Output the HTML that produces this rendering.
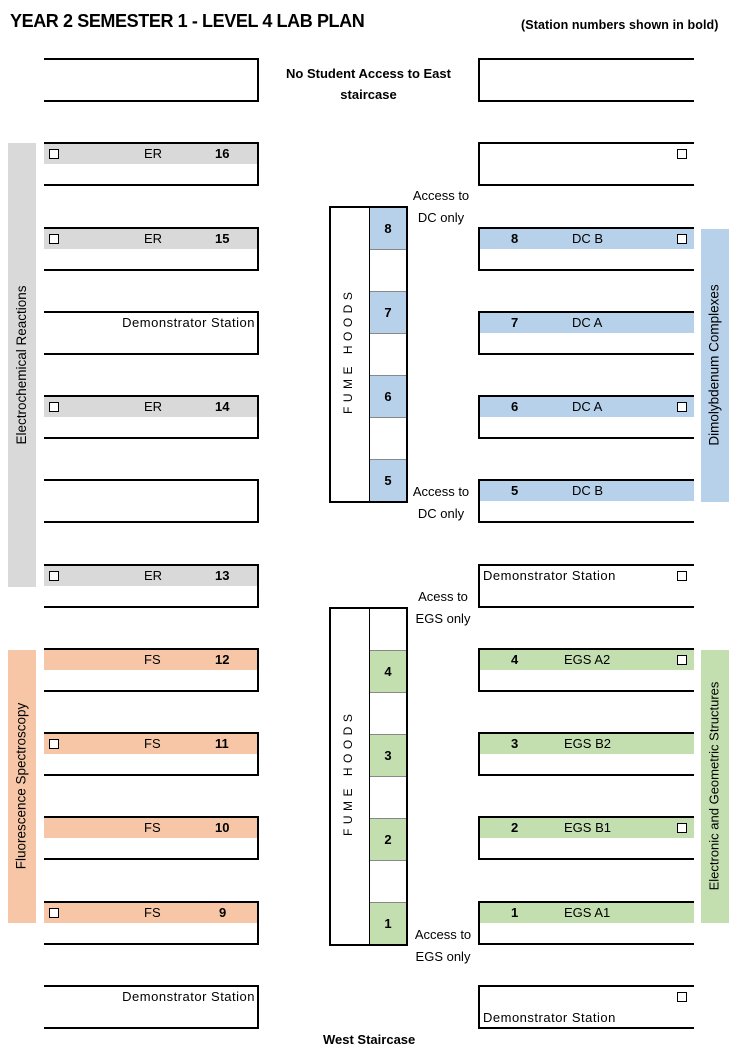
<!DOCTYPE html>
<html><head><meta charset="utf-8"><style>
*{margin:0;padding:0;box-sizing:border-box}
body{width:740px;height:1059px;background:#fff;position:relative;overflow:hidden;font-family:"Liberation Sans",sans-serif;font-size:13px;color:#000}
.a{position:absolute}
.L{position:absolute;left:44px;width:215px;height:44px;border-top:2px solid #000;border-right:2px solid #000;border-bottom:2px solid #000}
.R{position:absolute;left:478px;width:216px;height:44px;border-top:2px solid #000;border-left:2px solid #000;border-bottom:2px solid #000}
.s{position:absolute;left:0;right:0;top:0;height:20px}
.t{position:absolute;top:2px;white-space:nowrap;line-height:16px}
.ds{letter-spacing:0.5px}
.b{font-weight:bold}
.cb{position:absolute;top:5px;width:10px;height:10px;border:1px solid #000;background:#fff}
.g{background:#d9d9d9}.bl{background:#b7d1ea}.o{background:#f6c6a6}.gr{background:#c3dfb0}
.hood{position:absolute;left:329px;width:79px;border:2px solid #000}
.col{position:absolute;left:38px;width:1px;top:0;bottom:0;background:#000}
.cell{position:absolute;left:39px;width:36px;height:42px;border-bottom:1px solid #888;font-weight:bold;display:flex;align-items:center;justify-content:center}
.vt{position:absolute;transform:rotate(-90deg);transform-origin:center;white-space:nowrap;text-align:center}
.acc{position:absolute;text-align:center;line-height:22px;font-size:13px;width:70px}
</style></head><body>
<div class="a b" style="left:10px;top:11px;font-size:18px;letter-spacing:-0.4px">YEAR 2 SEMESTER 1 - LEVEL 4 LAB PLAN</div>
<div class="a b" style="left:521px;top:18px;font-size:12.5px;letter-spacing:0.1px">(Station numbers shown in bold)</div>
<div class="a b" style="left:262px;top:63px;width:213px;text-align:center;line-height:21px;font-size:13px">No Student Access to East<br>staircase</div>

<!-- side bars -->
<div class="a g" style="left:8px;top:143px;width:28px;height:444px"></div>
<div class="vt" style="left:-200px;top:356px;width:444px;height:18px;line-height:18px;font-size:13.5px">Electrochemical Reactions</div>
<div class="a o" style="left:8px;top:650px;width:28px;height:273px"></div>
<div class="vt" style="left:-115px;top:777px;width:273px;height:18px;line-height:18px;font-size:13.5px">Fluorescence Spectroscopy</div>
<div class="a bl" style="left:701px;top:229px;width:28px;height:273px"></div>
<div class="vt" style="left:578px;top:356px;width:273px;height:18px;line-height:18px;font-size:13.5px">Dimolybdenum Complexes</div>
<div class="a gr" style="left:701px;top:650px;width:28px;height:273px"></div>
<div class="vt" style="left:578px;top:777px;width:273px;height:18px;line-height:18px;font-size:13px">Electronic and Geometric Structures</div>

<!-- left benches -->
<div class="L" style="top:58px"></div>
<div class="L" style="top:142px"><div class="s g"></div><div class="cb" style="left:5px"></div><div class="t" style="left:100px">ER</div><div class="t b" style="left:171px">16</div></div>
<div class="L" style="top:227px"><div class="s g"></div><div class="cb" style="left:5px"></div><div class="t" style="left:100px">ER</div><div class="t b" style="left:171px">15</div></div>
<div class="L" style="top:311px"><div class="t ds" style="right:2px">Demonstrator Station</div></div>
<div class="L" style="top:395px"><div class="s g"></div><div class="cb" style="left:5px"></div><div class="t" style="left:100px">ER</div><div class="t b" style="left:171px">14</div></div>
<div class="L" style="top:479px"></div>
<div class="L" style="top:564px"><div class="s g"></div><div class="cb" style="left:5px"></div><div class="t" style="left:100px">ER</div><div class="t b" style="left:171px">13</div></div>
<div class="L" style="top:648px"><div class="s o"></div><div class="t" style="left:100px">FS</div><div class="t b" style="left:171px">12</div></div>
<div class="L" style="top:732px"><div class="s o"></div><div class="cb" style="left:5px"></div><div class="t" style="left:100px">FS</div><div class="t b" style="left:171px">11</div></div>
<div class="L" style="top:816px"><div class="s o"></div><div class="t" style="left:100px">FS</div><div class="t b" style="left:171px">10</div></div>
<div class="L" style="top:901px"><div class="s o"></div><div class="cb" style="left:5px"></div><div class="t" style="left:100px">FS</div><div class="t b" style="left:175px">9</div></div>
<div class="L" style="top:985px"><div class="t ds" style="right:2px">Demonstrator Station</div></div>

<!-- right benches -->
<div class="R" style="top:58px"></div>
<div class="R" style="top:142px"><div class="cb" style="left:197px"></div></div>
<div class="R" style="top:227px"><div class="s bl"></div><div class="t b" style="left:31px">8</div><div class="t" style="left:92px">DC B</div><div class="cb" style="left:197px"></div></div>
<div class="R" style="top:311px"><div class="s bl"></div><div class="t b" style="left:31px">7</div><div class="t" style="left:92px">DC A</div></div>
<div class="R" style="top:395px"><div class="s bl"></div><div class="t b" style="left:31px">6</div><div class="t" style="left:92px">DC A</div><div class="cb" style="left:197px"></div></div>
<div class="R" style="top:479px"><div class="s bl"></div><div class="t b" style="left:31px">5</div><div class="t" style="left:92px">DC B</div></div>
<div class="R" style="top:564px"><div class="t ds" style="left:3px">Demonstrator Station</div><div class="cb" style="left:197px"></div></div>
<div class="R" style="top:648px"><div class="s gr"></div><div class="t b" style="left:31px">4</div><div class="t" style="left:84px">EGS A2</div><div class="cb" style="left:197px"></div></div>
<div class="R" style="top:732px"><div class="s gr"></div><div class="t b" style="left:31px">3</div><div class="t" style="left:84px">EGS B2</div></div>
<div class="R" style="top:816px"><div class="s gr"></div><div class="t b" style="left:31px">2</div><div class="t" style="left:84px">EGS B1</div><div class="cb" style="left:197px"></div></div>
<div class="R" style="top:901px"><div class="s gr"></div><div class="t b" style="left:31px">1</div><div class="t" style="left:84px">EGS A1</div></div>
<div class="R" style="top:985px"><div class="cb" style="left:197px"></div><div class="t ds" style="left:3px;top:23px">Demonstrator Station</div></div>

<!-- fume hoods top -->
<div class="hood" style="top:206px;height:297px"><div class="col"></div>
<div class="cell bl" style="top:0">8</div>
<div class="cell" style="top:42px"></div>
<div class="cell bl" style="top:84px">7</div>
<div class="cell" style="top:126px"></div>
<div class="cell bl" style="top:168px">6</div>
<div class="cell" style="top:210px"></div>
<div class="cell bl" style="top:252px;height:41px;border-bottom:none">5</div>
</div>
<div class="vt" style="left:288px;top:346px;width:120px;height:16px;line-height:16px;letter-spacing:4.5px;font-size:12px">FUME HOODS</div>
<!-- fume hoods bottom -->
<div class="hood" style="top:607px;height:339px"><div class="col"></div>
<div class="cell" style="top:0"></div>
<div class="cell gr" style="top:42px">4</div>
<div class="cell" style="top:84px"></div>
<div class="cell gr" style="top:126px">3</div>
<div class="cell" style="top:168px"></div>
<div class="cell gr" style="top:210px">2</div>
<div class="cell" style="top:252px"></div>
<div class="cell gr" style="top:294px;height:41px;border-bottom:none">1</div>
</div>
<div class="vt" style="left:288px;top:768px;width:120px;height:16px;line-height:16px;letter-spacing:4.5px;font-size:12px">FUME HOODS</div>

<div class="acc" style="left:406px;top:185px">Access to<br>DC only</div>
<div class="acc" style="left:406px;top:481px">Access to<br>DC only</div>
<div class="acc" style="left:408px;top:586px">Acess to<br>EGS only</div>
<div class="acc" style="left:408px;top:924px">Access to<br>EGS only</div>

<div class="a b" style="left:323px;top:1032px;font-size:13px">West Staircase</div>
</body></html>
